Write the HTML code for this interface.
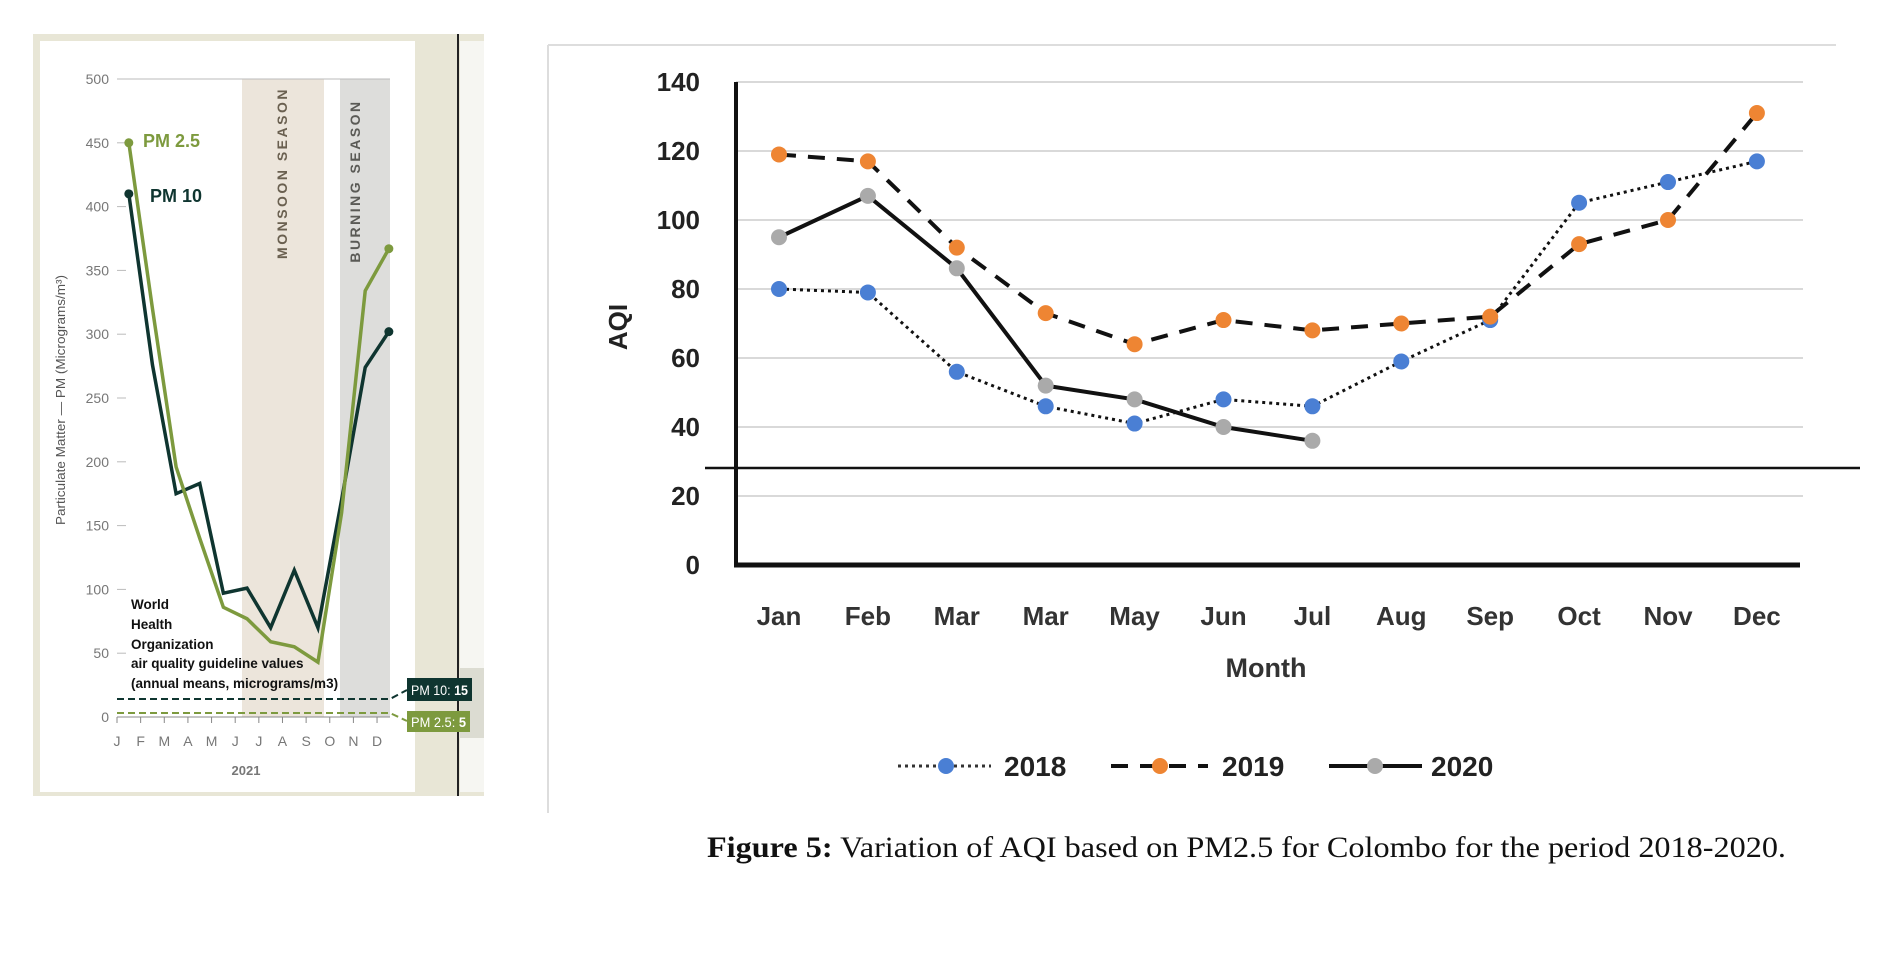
<!DOCTYPE html>
<html><head><meta charset="utf-8"><style>
body{margin:0;background:#fff;width:1887px;height:957px;overflow:hidden}
svg{display:block}
</style></head><body>
<svg width="1887" height="957" viewBox="0 0 1887 957" xmlns="http://www.w3.org/2000/svg" font-family="Liberation Sans, sans-serif">
<!-- LEFT CHART -->
<g>
<rect x="33" y="34" width="451" height="762" fill="#e8e6d6"/>
<rect x="40" y="41" width="375" height="751" fill="#fff"/>
<rect x="460" y="41" width="24" height="751" fill="#f6f6f2"/>
<rect x="460" y="668" width="24" height="70" fill="#dcdcd2"/>
<line x1="458" y1="34" x2="458" y2="796" stroke="#222" stroke-width="2"/>
<rect x="242" y="79" width="82" height="638" fill="#ece5db"/>
<rect x="340" y="79" width="50" height="638" fill="#dddddb"/>
<text transform="translate(287,173) rotate(-90)" text-anchor="middle" font-size="14" fill="#6a6050" letter-spacing="2.5" font-weight="bold">MONSOON SEASON</text>
<text transform="translate(360,181) rotate(-90)" text-anchor="middle" font-size="14" fill="#5a5a56" letter-spacing="2.5" font-weight="bold">BURNING SEASON</text>
<g id="lax"></g>
<text transform="translate(65,400) rotate(-90)" text-anchor="middle" font-size="13" fill="#555" textLength="250" lengthAdjust="spacingAndGlyphs">Particulate Matter — PM (Micrograms/m³)</text>
<text x="246" y="775" text-anchor="middle" font-size="13" font-weight="bold" fill="#777">2021</text>
<g id="lser"></g>
<text x="143" y="147" font-size="18" font-weight="bold" fill="#7d9a3e">PM 2.5</text>
<text x="150" y="202" font-size="18" font-weight="bold" fill="#0f3530">PM 10</text>
<g font-size="13.5" font-weight="bold" fill="#111">
<text x="131" y="609">World</text><text x="131" y="629">Health</text><text x="131" y="649">Organization</text>
<text x="131" y="668">air quality guideline values</text><text x="131" y="688">(annual means, micrograms/m3)</text></g>
<polyline points="117,699 390,699 407,690" fill="none" stroke="#0f3530" stroke-width="2" stroke-dasharray="7,4"/>
<polyline points="117,713 390,713 407,721" fill="none" stroke="#7d9a3e" stroke-width="2" stroke-dasharray="7,4"/>
<rect x="407" y="678" width="65" height="23" fill="#0f3530"/>
<text x="411" y="695" font-size="14" fill="#fff" textLength="57" lengthAdjust="spacingAndGlyphs">PM 10: <tspan font-weight="bold">15</tspan></text>
<rect x="407" y="711" width="63" height="21" fill="#7d9a3e"/>
<text x="411" y="727" font-size="14" fill="#fff" textLength="55" lengthAdjust="spacingAndGlyphs">PM 2.5: <tspan font-weight="bold">5</tspan></text>
</g>
<!-- RIGHT CHART -->
<g>
<line x1="548" y1="45" x2="1836" y2="45" stroke="#ddd" stroke-width="2"/>
<line x1="548" y1="45" x2="548" y2="813" stroke="#ddd" stroke-width="2"/>
<g id="rax"></g>
<g id="rser"></g>
<text transform="translate(627,327) rotate(-90)" text-anchor="middle" font-size="26" font-weight="bold" fill="#222">AQI</text>
<text x="1266" y="677" text-anchor="middle" font-size="27" font-weight="bold" fill="#333">Month</text>
<g>
<line x1="898" y1="766" x2="991" y2="766" stroke="#333" stroke-width="3" stroke-dasharray="3,4"/>
<circle cx="946" cy="766" r="8" fill="#4a7fd4"/>
<text x="1004" y="776" font-size="28" font-weight="bold" fill="#222">2018</text>
<line x1="1111" y1="766" x2="1208" y2="766" stroke="#111" stroke-width="4" stroke-dasharray="17,12"/>
<circle cx="1160" cy="766" r="8" fill="#ee8533"/>
<text x="1222" y="776" font-size="28" font-weight="bold" fill="#222">2019</text>
<line x1="1329" y1="766" x2="1422" y2="766" stroke="#111" stroke-width="4"/>
<circle cx="1375" cy="766" r="8" fill="#aaa"/>
<text x="1431" y="776" font-size="28" font-weight="bold" fill="#222">2020</text>
</g>
<text x="707" y="857" font-family="Liberation Serif, serif" font-size="30" fill="#111" textLength="1079" lengthAdjust="spacingAndGlyphs"><tspan font-weight="bold">Figure 5:</tspan> Variation of AQI based on PM2.5 for Colombo for the period 2018-2020.</text>
</g>
</svg>
<script>
const NS='http://www.w3.org/2000/svg';
// Left chart data
const lMonths=['J','F','M','A','M','J','J','A','S','O','N','D'];
const lTicks=[0,50,100,150,200,250,300,350,400,450,500];
const pm25=[450,320,196,140,86,77,59,55,43,160,334,367];
const pm10=[410,276,175,183,97,101,70,115,70,170,274,302];
// Right chart data
const rMonths=['Jan','Feb','Mar','Mar','May','Jun','Jul','Aug','Sep','Oct','Nov','Dec'];
const rTicks=[0,20,40,60,80,100,120,140];
const aqi2018=[80,79,56,46,41,48,46,59,71,105,111,117];
const aqi2019=[119,117,92,73,64,71,68,70,72,93,100,131];
const aqi2020=[95,107,86,52,48,40,36];

function mk(tag,attrs,parent){const e=document.createElementNS(NS,tag);for(const k in attrs)e.setAttribute(k,attrs[k]);parent.appendChild(e);return e;}
// left scales
const lx=i=>117+i*23.64, lxp=i=>117+(i+0.5)*23.64, ly=v=>717-v*(638/500);
const lax=document.getElementById('lax');
lTicks.forEach(t=>{
  const tx=mk('text',{x:109,y:ly(t)+5,'text-anchor':'end','font-size':14,fill:'#777'},lax);tx.textContent=t;
  
  
  mk('line',{x1:117,x2:126,y1:ly(t),y2:ly(t),stroke:'#bbb','stroke-width':1},lax);
});
mk('line',{x1:117,x2:390,y1:ly(500),y2:ly(500),stroke:'#bbb','stroke-width':1},lax);
mk('line',{x1:117,x2:390,y1:ly(0),y2:ly(0),stroke:'#888','stroke-width':1},lax);
lMonths.forEach((m,i)=>{
  mk('line',{x1:lx(i),x2:lx(i),y1:ly(0),y2:ly(0)+6,stroke:'#888'},lax);
  const tx=mk('text',{x:lx(i),y:746,'text-anchor':'middle','font-size':14,fill:'#777'},lax);tx.textContent=m;
  
  
});
const lser=document.getElementById('lser');
[[pm10,'#0f3530','pm10-line'],[pm25,'#7d9a3e','pm25-line']].forEach(([d,c,n])=>{
  const p=mk('polyline',{points:d.map((v,i)=>lxp(i)+','+ly(v)).join(' '),fill:'none',stroke:c,'stroke-width':3.5,'stroke-linejoin':'miter'},lser);
  
  
  [0,d.length-1].forEach(i=>{const c2=mk('circle',{cx:lxp(i),cy:ly(d[i]),r:4.5,fill:c},lser);
    
    });
});
// right scales
const rx=i=>779+i*88.9, ry=v=>565-v*(483/140);
const rax=document.getElementById('rax');
rTicks.forEach(t=>{
  if(t>0)mk('line',{x1:736,x2:1803,y1:ry(t),y2:ry(t),stroke:'#d9d9d9','stroke-width':2},rax);
  const tx=mk('text',{x:700,y:ry(t)+9,'text-anchor':'end','font-size':26,'font-weight':'bold',fill:'#222'},rax);tx.textContent=t;
  
  
});
rMonths.forEach((m,i)=>{
  const tx=mk('text',{x:rx(i),y:625,'text-anchor':'middle','font-size':26,'font-weight':'bold',fill:'#333'},rax);tx.textContent=m;
  
  
});
mk('line',{x1:736,x2:736,y1:82,y2:567,stroke:'#111','stroke-width':4},rax);
mk('line',{x1:734,x2:1800,y1:565,y2:565,stroke:'#111','stroke-width':5},rax);
mk('line',{x1:705,x2:1860,y1:468,y2:468,stroke:'#111','stroke-width':2.5},rax);
const rser=document.getElementById('rser');
[[aqi2018,'#4a7fd4','3,4',3,'series-2018'],[aqi2019,'#ee8533','17,12',4,'series-2019'],[aqi2020,'#aaa','',4,'series-2020']].forEach(([d,c,da,w,n])=>{
  const a={points:d.map((v,i)=>rx(i)+','+ry(v)).join(' '),fill:'none',stroke:'#111','stroke-width':w};
  if(da)a['stroke-dasharray']=da;
  const p=mk('polyline',a,rser);
  
  
  d.forEach((v,i)=>{const c2=mk('circle',{cx:rx(i),cy:ry(v),r:8,fill:c},rser);
    
    });
});
</script>
</body></html>
